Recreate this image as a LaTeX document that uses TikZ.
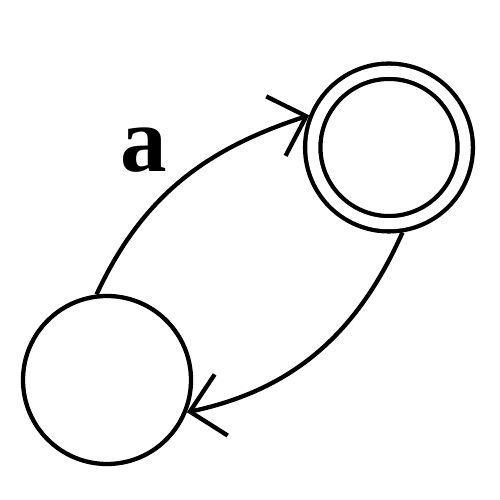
\documentclass[tikz,border=0pt]{standalone}
\usepackage{fontspec}
\setmainfont{Liberation Serif}
\usetikzlibrary{arrows.meta,positioning}

\begin{document}
\begin{tikzpicture}[
state/.style={draw=black,circle,line width=0.086cm,inner sep=0pt,minimum size=3.36cm},
accept/.style={draw=black,circle,line width=0.086cm,double,double distance=0.22cm,inner sep=0pt,minimum size=3.05cm,outer sep=0.195cm},
arr/.style={-{Straight Barb[length=0.64cm,width=1.25cm]},line width=0.086cm,draw=black}]
\useasboundingbox (0,0) rectangle (10,10);
\node[state] (q0) at (2.14,2.40) {};
\node[accept] (q1) at (7.78,7.05) {};
\node[font=\fontsize{53}{58}\selectfont\bfseries,inner sep=0pt] (lbl) at (2.87,7.0) {a};
\draw[arr] (q0.97) to[out=65,in=198] (q1.158);
\draw[arr] (q1.279) to[out=246,in=12] (q0.338);
\end{tikzpicture}
\end{document}
